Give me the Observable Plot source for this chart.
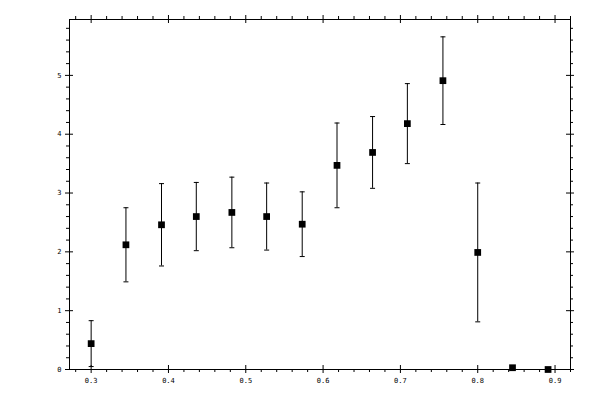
<!DOCTYPE html>
<html>
<head>
<meta charset="utf-8">
<script src="https://cdn.jsdelivr.net/npm/d3@7"></script>
<script src="https://cdn.jsdelivr.net/npm/@observablehq/plot@0.6"></script>
<style>
html, body { margin: 0; padding: 0; background: #fff; }
#chart svg { display: block; }
</style>
</head>
<body>
<div id="chart"></div>
<script>
const xValues = [0.300, 0.345, 0.391, 0.436, 0.482, 0.527, 0.573, 0.618, 0.664, 0.709, 0.755, 0.800, 0.845, 0.891];
const yValues = [0.44, 2.12, 2.46, 2.60, 2.67, 2.60, 2.47, 3.47, 3.69, 4.18, 4.91, 1.99, 0.03, 0.0];
const yErrors = [0.39, 0.63, 0.70, 0.58, 0.60, 0.57, 0.55, 0.72, 0.61, 0.68, 0.745, 1.18, 0, 0];
const xMajorTicks = [0.3, 0.4, 0.5, 0.6, 0.7, 0.8, 0.9];
const xMinorTicks = [0.28, 0.32, 0.34, 0.36, 0.38, 0.42, 0.44, 0.46, 0.48, 0.52, 0.54, 0.56, 0.58, 0.62, 0.64, 0.66, 0.68, 0.72, 0.74, 0.76, 0.78, 0.82, 0.84, 0.86, 0.88, 0.92];
const yMajorTicks = [0, 1, 2, 3, 4, 5];
const yMinorTicks = [0.2, 0.4, 0.6, 0.8, 1.2, 1.4, 1.6, 1.8, 2.2, 2.4, 2.6, 2.8, 3.2, 3.4, 3.6, 3.8, 4.2, 4.4, 4.6, 4.8, 5.2, 5.4, 5.6, 5.8];
const xDomain = [0.272, 0.92];
const yDomain = [0, 5.95];

const data = xValues.map((x, i) => ({x, y: yValues[i], lo: yValues[i] - yErrors[i], hi: yValues[i] + yErrors[i]}));

const capSymbol = {
  draw(ctx, size) {
    const w = Math.sqrt(size / Math.PI);
    ctx.moveTo(-w, 0);
    ctx.lineTo(w, 0);
  }
};

const [x0, x1] = xDomain;
const [y0, y1] = yDomain;
const font = "DejaVu Sans Mono";

const chart = Plot.plot({
  width: 600,
  height: 400,
  marginLeft: 69,
  marginRight: 30,
  marginTop: 19,
  marginBottom: 31,
  style: {fontFamily: font, fontSize: "7px", background: "#fff", color: "#000"},
  x: {domain: xDomain},
  y: {domain: yDomain},
  marks: [
    Plot.frame({stroke: "black", strokeWidth: 1}),
    // bottom ticks
    Plot.ruleX(xMajorTicks, {x: d => d, y1: y0, y2: y0, insetTop: -4, insetBottom: -4, stroke: "black"}),
    Plot.ruleX(xMinorTicks, {x: d => d, y1: y0, y2: y0, insetTop: 0, insetBottom: -3, stroke: "black"}),
    // top ticks
    Plot.ruleX(xMajorTicks, {x: d => d, y1: y1, y2: y1, insetTop: -4, insetBottom: -4, stroke: "black"}),
    Plot.ruleX(xMinorTicks, {x: d => d, y1: y1, y2: y1, insetTop: -3, insetBottom: 0, stroke: "black"}),
    // left ticks
    Plot.ruleY(yMajorTicks, {y: d => d, x1: x0, x2: x0, insetLeft: -4, insetRight: -4, stroke: "black"}),
    Plot.ruleY(yMinorTicks, {y: d => d, x1: x0, x2: x0, insetLeft: -3, insetRight: 0, stroke: "black"}),
    // right ticks
    Plot.ruleY(yMajorTicks, {y: d => d, x1: x1, x2: x1, insetLeft: -4, insetRight: -4, stroke: "black"}),
    Plot.ruleY(yMinorTicks, {y: d => d, x1: x1, x2: x1, insetLeft: 0, insetRight: -3, stroke: "black"}),
    Plot.axisX({anchor: "bottom", ticks: xMajorTicks, tickSize: 0, tickPadding: 9, tickFormat: d3.format(".1f"), fontFamily: font, fontSize: 7, label: null}),
    Plot.axisY({anchor: "left", ticks: yMajorTicks, tickSize: 0, tickPadding: 8, tickFormat: d3.format("d"), fontFamily: font, fontSize: 7, label: null}),
    // error bars
    Plot.ruleX(data, {x: "x", y1: "lo", y2: "hi", stroke: "black", strokeWidth: 1}),
    Plot.dot(data.filter(d => d.hi > d.y), {x: "x", y: "hi", symbol: capSymbol, r: 2.5, stroke: "black", strokeWidth: 1, fill: "none"}),
    Plot.dot(data.filter(d => d.lo < d.y), {x: "x", y: "lo", symbol: capSymbol, r: 2.5, stroke: "black", strokeWidth: 1, fill: "none"}),
    Plot.dot(data, {x: "x", y: "y", symbol: "square", r: 3.8, fill: "black", stroke: "none"})
  ]
});
document.getElementById("chart").appendChild(chart);
</script>
</body>
</html>
